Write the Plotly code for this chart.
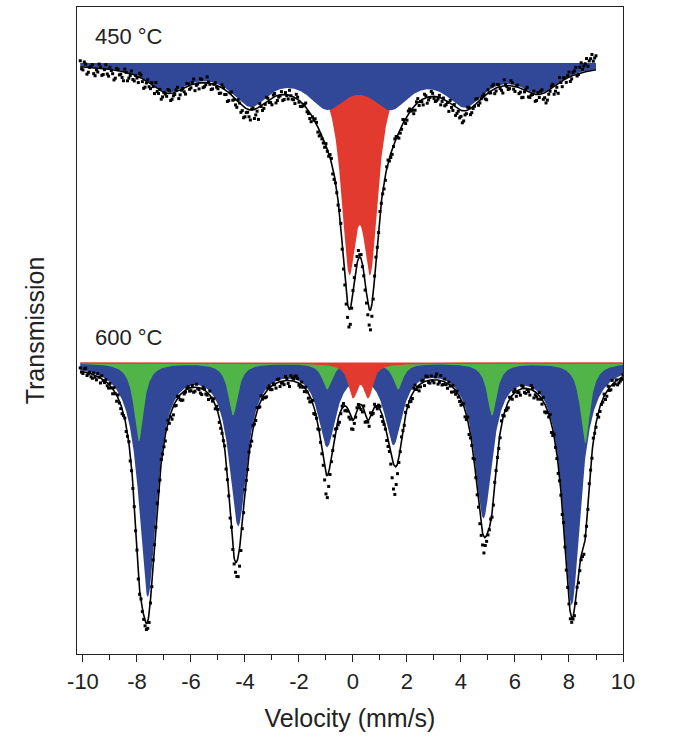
import numpy as np
import plotly.graph_objects as go

# ---------------- values ----------------
# depths are in units of 0.001 relative transmission
# 450 °C : broad magnetic (blue) component
b450_pos = [-6.85, -3.8, -0.95, 1.4, 4.15, 6.9]
b450_depth = [25, 37, 37, 37, 37, 25]
b450_fwhm = [1.8, 1.8, 1.8, 1.8, 1.8, 1.8]
# 450 °C : paramagnetic doublet (red)
r450_pos = [-0.15, 0.65]
r450_depth = [181, 181]
r450_fwhm = [0.72, 0.72]
v450_range = [-10.1, 9.0]

# 600 °C : sextet 1 (blue), sextet 2 (green), doublet (red)
b600_pos = [-7.6, -4.25, -0.96, 1.5, 4.83, 8.1]
b600_depth = [231, 158, 78, 76, 150, 239]
b600_fwhm = [0.8, 0.8, 0.8, 0.8, 0.8, 0.8]
g600_pos = [-7.93, -4.44, -0.96, 1.67, 5.15, 8.6]
g600_depth = [78, 52, 26, 26, 52, 80]
g600_fwhm = [0.44, 0.44, 0.44, 0.44, 0.44, 0.44]
r600_pos = [0.0, 0.56]
r600_depth = [31.5, 31.5]
r600_fwhm = [0.4, 0.4]
v600_range = [-10.1, 10.0]
offset600 = 0.30

# measured points: deviation from fit (0.001 units, + = lower transmission)
# set a: channels at -10.1, -10.0, ... ; set b: channels half a step later
dev450 = [-6, 3, -3, 5, -1, 6, 2, -4, 7, 1, 5, -2,
          4, 8, -1, 3, 9, 0, 5, -3, 6, 2,
          -4, 3, 7, -2, 5, 1, -5, 4, 8, 0,
          3, -3, 6, 2, -4, 5, 0, 7, -2, 3,
          -5, 2, 6, -3, 4, -6, 1, 5, -2, 3,
          6, -1, 4, 8, -3, 2, 7, 0, 5, 9,
          3, 10, -2, 6, 12, 1, 5, -4, 3, 7,
          -3, 5, 1, 6, -2, 4, 0, 3, -4, 2,
          4, -1, 3, 6, 0, -3, 5, 2, 4, -2,
          3, -4, 5, 2, -3, 6, 8, 14, 16, -2,
          -6, -8, -4, 4, 10, 16, 12, -2, 3, -3,
          2, 5, -3, 4, 1, -2, 6, 3, -1, 4,
          -3, 2, 5, -4, 1, 6, -2, 3, -5, 2,
          4, -2, 3, 6, 1, -3, 5, 8, 2, 6,
          10, 3, -2, 5, 1, -4, 3, -1, 4, -3,
          2, -5, 3, -2, 4, -6, 1, 3, -3, 5,
          -2, 4, 8, -1, 5, 2, -3, 6, 3, -4,
          5, 9, 2, -3, 6, 10, 1, -2, 4, -5,
          3, -4, 2, -6, -3, -8, -5, -12, -9, -14]
dev450b = [2, -5, 7, 0, -3, 8, 4, -1, 6, -4,
           7, 1, 10, -2, 4, 6, -3, 8, 2, 5,
           0, 6, -3, 9, 2, 4, -2, 7, 3, -1,
           5, 1, -4, 7, 3, -2, 8, 1, 4, -3,
           4, -2, 7, 1, -4, 5, 2, -1, 6, 0,
           2, 7, -3, 5, 10, -1, 4, 6, -2, 8,
           11, 4, 7, -1, 9, 3, -3, 6, 2, -2,
           4, -2, 7, 2, -3, 5, 1, -5, 3, 6,
           -2, 5, 2, -4, 3, 7, 1, -2, 6, 3,
           5, 2, -3, 6, 1, 4, -4, 9, 12, 18,
           6, -4, -7, -2, 3, 8, 12, 20, 6, -4,
           4, 1, 6, -2, 3, 5, -3, 2, 4, -4,
           5, -3, 1, 7, -2, 4, 2, -4, 6, 1,
           -3, 5, 2, 7, -1, 4, 9, 3, -2, 5,
           8, 12, 4, -3, 6, 2, -5, 4, 0, -2,
           6, 1, -4, 5, -3, 2, 7, -1, 4, -5,
           3, -1, 6, 9, 2, -4, 5, 1, 7, -2,
           -3, 6, 11, 4, -2, 8, 3, -5, 6, -1,
           -2, 5, -3, -7, 1, -10, -6, -13, -10, -16,
           -12]
dev600 = [-3, 2, -4, 1, 3, -2, 4, 0, -3, 2,
          3, -2, 5, 1, -3, 4, 2, 6, -1, 3,
          2, -2, 4, 3, 5, 7, 3, -3, 4, 2,
          -3, 4, 1, 6, 10, 3, -2, 5, 8, 2,
          -2, 3, 5, -3, 2, 6, -1, 3, -4, 2,
          4, -3, 5, 2, 8, 3, -4, 6, 15, 18,
          6, -3, 4, 2, -2, 5, 1, -4, 3, 6,
          -2, 4, 1, -3, 5, 2, -4, 3, -5, -2,
          -6, 2, -3, 4, 1, 6, -2, 3, 5, 2,
          6, 20, 14, 5, -3, 4, 8, -2, 5, 3,
          4, 9, 3, -2, 5, -3, 4, 7, 3, -2,
          3, -3, 5, 2, 6, 10, 25, 18, 5, -2,
          4, -3, 2, 5, -4, 1, 3, -2, -5, 2,
          -4, 3, -6, 2, 4, -3, 5, 1, -2, 4,
          3, 6, -2, 5, 8, 3, -4, 6, 9, 12,
          8, 3, -3, 5, 2, 6, -4, 3, 5, -2,
          4, -3, 2, 6, -2, 5, 3, -4, 7, 4,
          -3, 5, 8, 2, -4, 6, 3, 9, 4, -3,
          5, 3, 4, 6, 2, 8, 5, -3, 4, 2,
          -3, 4, 6, 2, -2, 5, 3, -4, 2, 5,
          3, -2]
dev600b = [1, -3, 3, -1, 4, 2, -3, 5, 1, -2,
           4, 1, -3, 6, 2, 5, -1, 3, 7, 4,
           3, 5, -2, 4, 6, 9, 4, 2, -2, 5,
           2, 6, -2, 4, 9, 5, 1, 7, 3, -1,
           3, -2, 4, 1, 5, -2, 3, 6, 1, -3,
           -2, 5, 3, -3, 4, 6, 2, 10, 20, 14,
           5, 2, -2, 6, 3, -3, 4, 2, 5, -1,
           3, -1, 5, -3, 2, 4, -2, 6, -3, -5,
           -4, 3, 1, -2, 5, 3, 7, 1, -2, 4,
           12, 22, 9, 3, -2, 6, 3, -3, 4, 6,
           10, 5, -2, 3, 6, 9, 2, -3, 5, 1,
           -2, 4, 3, 7, 4, 18, 28, 10, 3, 1,
           -2, 3, 5, -3, 2, 6, -2, 4, -4, 3,
           1, -3, 4, -5, 3, 2, -2, 6, 3, -1,
           5, 2, 7, -3, 4, 6, 2, 5, 10, 16,
           6, 2, 4, -2, 3, 5, -3, 2, 6, 1,
           -2, 5, 3, -3, 4, 1, 6, -2, 3, 5,
           2, -4, 6, 3, 9, -2, 5, 4, 7, 2,
           3, 6, 2, 5, 10, 4, 7, 2, -2, 5,
           2, -2, 5, 3, 6, -3, 4, 2, -1, 4,
           2]

x_ticks = [-10, -8, -6, -4, -2, 0, 2, 4, 6, 8, 10]
x_ticktext = ["-10", "-8", "-6", "-4", "-2", "0", "2", "4", "6", "8", "10"]
x_minor = [-9, -7, -5, -3, -1, 1, 3, 5, 7, 9]
labels = ["450 °C", "600 °C"]

BLUE = "rgb(49,72,152)"
RED = "rgb(226,58,46)"
GREEN = "rgb(80,180,72)"
FONT = "Liberation Sans"
INK = "#222"
STEP = 0.1


def lines(v, pos, depth, fwhm):
    v = np.asarray(v, dtype=float)
    out = np.zeros_like(v)
    for p, d, w in zip(pos, depth, fwhm):
        out += d / (1.0 + ((v - p) / (w / 2.0)) ** 2)
    return out / 1000.0


def fine(rng):
    return np.linspace(rng[0], rng[1], 1500)


def channels(start, n):
    return start + STEP * np.arange(n)


fig = go.Figure()


def area(v, depth, base, color, lw=0):
    xs = np.concatenate([v, v[::-1]])
    ys = np.concatenate([base - depth, np.full(len(v), base)])
    fig.add_trace(go.Scatter(x=xs, y=ys, mode="lines", fill="toself",
                             fillcolor=color, line=dict(width=lw, color=color),
                             hoverinfo="skip", showlegend=False))


def dots(v, y):
    fig.add_trace(go.Scatter(x=v, y=y, mode="markers",
                             marker=dict(symbol="square", size=3, color="black"),
                             showlegend=False))


# ---- 450 °C ----
def model450(v):
    return lines(v, b450_pos, b450_depth, b450_fwhm) + lines(v, r450_pos, r450_depth, r450_fwhm)


vf = fine(v450_range)
blue450 = lines(vf, b450_pos, b450_depth, b450_fwhm)
red450 = lines(vf, r450_pos, r450_depth, r450_fwhm)
area(vf, red450, 1.0, RED)
area(vf, blue450, 1.0, BLUE)
fig.add_trace(go.Scatter(x=vf, y=1.0 - blue450 - red450, mode="lines",
                         line=dict(color="black", width=1.6), showlegend=False))
for start, dev in ((v450_range[0], dev450), (v450_range[0] + STEP / 2, dev450b)):
    vc = channels(start, len(dev))
    dots(vc, 1.0 - model450(vc) - np.asarray(dev) / 1000.0)

# ---- 600 °C ----
base6 = 1.0 - offset600


def model600(v):
    return (lines(v, b600_pos, b600_depth, b600_fwhm)
            + lines(v, g600_pos, g600_depth, g600_fwhm)
            + lines(v, r600_pos, r600_depth, r600_fwhm))


vf6 = fine(v600_range)
blue600 = lines(vf6, b600_pos, b600_depth, b600_fwhm)
green600 = lines(vf6, g600_pos, g600_depth, g600_fwhm)
red600 = lines(vf6, r600_pos, r600_depth, r600_fwhm)
area(vf6, blue600, base6, BLUE)
area(vf6, green600, base6, GREEN)
area(vf6, red600, base6, RED, lw=1)
fig.add_trace(go.Scatter(x=vf6, y=base6 - blue600 - green600 - red600, mode="lines",
                         line=dict(color="black", width=1.6), showlegend=False))
for start, dev in ((v600_range[0], dev600), (v600_range[0] + STEP / 2, dev600b)):
    vc = channels(start, len(dev))
    dots(vc, base6 - model600(vc) - np.asarray(dev) / 1000.0)

fig.add_annotation(x=-9.62, y=1.027, text=labels[0], showarrow=False, xanchor="left",
                   font=dict(family=FONT, size=22, color=INK))
fig.add_annotation(x=-9.62, y=base6 + 0.026, text=labels[1], showarrow=False, xanchor="left",
                   font=dict(family=FONT, size=22, color=INK))

fig.update_layout(
    width=685, height=745,
    margin=dict(l=77, r=62, t=7, b=91),
    paper_bgcolor="white", plot_bgcolor="white",
    font=dict(family=FONT, color=INK),
    showlegend=False,
)
fig.update_xaxes(range=[-10.22, 10.0], tickvals=x_ticks, ticktext=x_ticktext,
                 ticks="outside", ticklen=7,
                 tickwidth=1.2, tickcolor=INK, showline=True, linecolor=INK,
                 linewidth=1.3, mirror=True, showgrid=False, zeroline=False,
                 tickfont=dict(family=FONT, size=22, color=INK),
                 minor=dict(tickvals=x_minor, ticks="outside",
                            ticklen=5, tickcolor=INK, tickwidth=1.2, showgrid=False),
                 title=dict(text="Velocity (mm/s)", font=dict(family=FONT, size=25, color=INK),
                            standoff=16))
fig.update_yaxes(range=[0.409, 1.056], showticklabels=False, ticks="", showline=True,
                 linecolor=INK, linewidth=1.3, mirror=True, showgrid=False, zeroline=False,
                 title=dict(text="Transmission", font=dict(family=FONT, size=25, color=INK),
                            standoff=24))

fig.write_html("out.html", config={"displayModeBar": False},
               post_script="document.body.style.margin='0px';")
